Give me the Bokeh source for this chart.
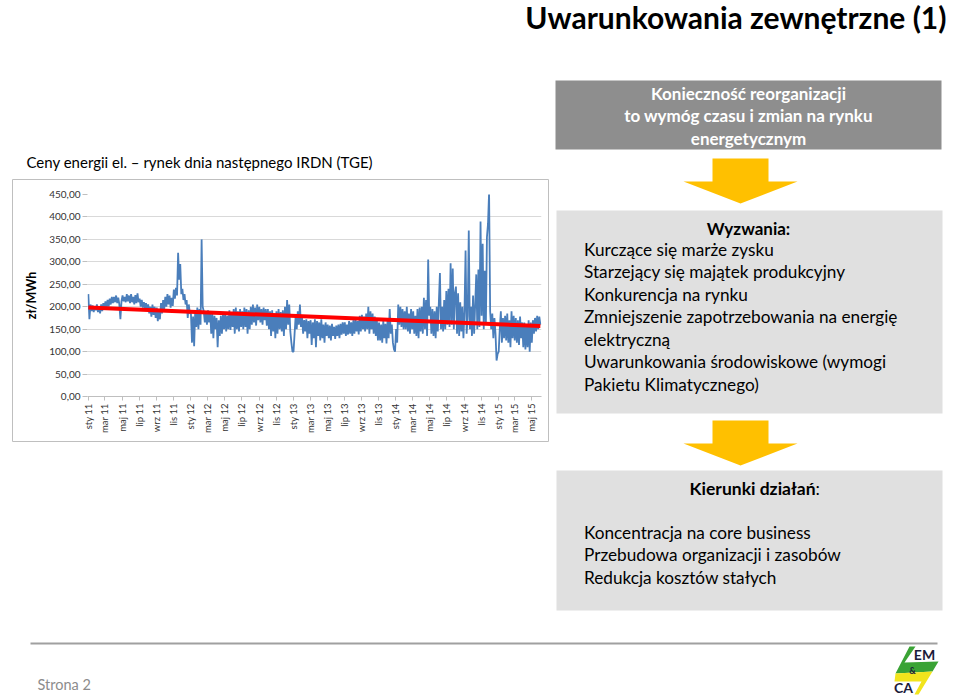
import math
import numpy as np
import pandas as pd
from bokeh.plotting import figure
from bokeh.models import Range1d, FixedTicker
from bokeh.core.properties import value
from bokeh.embed import file_html
from bokeh.resources import INLINE

# ---------------- data (zł/MWh, ~8 samples per month) -------------
prices_2011 = [
    228, 172, 205, 190, 203, 188, 200, 192,   # sty
    205, 188, 200, 185, 205, 190, 208, 195,   # lut
    212, 198, 215, 200, 218, 205, 222, 208,   # mar
    222, 210, 225, 208, 220, 205, 172, 212,   # kwi
    225, 212, 222, 210, 228, 212, 225, 208,   # maj
    228, 210, 222, 205, 226, 208, 230, 210,   # cze
    218, 200, 215, 198, 210, 195, 208, 192,   # lip
    205, 185, 200, 178, 205, 182, 200, 175,   # sie
    198, 168, 195, 172, 208, 185, 215, 195,   # wrz
    222, 200, 228, 205, 225, 198, 220, 202,   # paź
    238, 218, 242, 225, 320, 260, 295, 228,   # lis
    240, 215, 228, 205, 215, 175, 205, 185,   # gru
]
prices_2012 = [
    185, 120, 178, 112, 190, 155, 198, 150,
    195, 160, 350, 200, 190, 165, 185, 160,
    192, 165, 190, 140, 185, 130, 180, 150,
    175, 110, 170, 135, 180, 140, 182, 150,
    185, 145, 180, 150, 192, 148, 188, 155,
    195, 140, 198, 150, 190, 145, 195, 155,
    190, 150, 198, 155, 195, 140, 192, 150,
    200, 160, 205, 165, 198, 158, 205, 170,
    200, 165, 195, 160, 198, 170, 195, 158,
    195, 150, 190, 135, 192, 145, 185, 130,
    190, 140, 195, 150, 188, 145, 192, 135,
    200, 150, 215, 160, 205, 145, 120, 100,
]
prices_2013 = [
    100, 140, 180, 150, 190, 160, 205, 155,
    175, 140, 170, 145, 172, 130, 168, 140,
    170, 115, 165, 130, 172, 110, 168, 135,
    165, 125, 172, 130, 160, 120, 165, 135,
    160, 130, 158, 125, 162, 135, 155, 128,
    158, 135, 160, 130, 162, 138, 165, 140,
    165, 135, 160, 138, 168, 140, 165, 135,
    170, 140, 172, 145, 168, 138, 180, 145,
    182, 150, 178, 145, 185, 150, 200, 140,
    190, 150, 185, 140, 178, 135, 170, 125,
    165, 125, 160, 120, 168, 130, 162, 118,
    170, 130, 195, 140, 160, 120, 105, 100,
]
prices_2014 = [
    150, 120, 205, 160, 200, 155, 195, 150,
    190, 150, 200, 145, 185, 140, 195, 150,
    190, 140, 180, 135, 195, 130, 198, 145,
    200, 140, 220, 150, 215, 135, 305, 180,
    200, 140, 195, 135, 190, 130, 200, 145,
    210, 275, 150, 200, 145, 215, 150, 235,
    160, 240, 155, 297, 160, 285, 150, 230,
    245, 140, 230, 135, 210, 145, 200, 130,
    190, 325, 140, 180, 370, 150, 200, 135,
    225, 140, 205, 272, 150, 283, 155, 390,
    180, 340, 150, 280, 160, 355, 385, 455,
    190, 150, 185, 130, 175, 140, 80, 95,
]
prices_2015 = [
    100, 150, 190, 120, 175, 130, 180, 125,
    185, 120, 170, 110, 190, 130, 180, 125,
    175, 120, 170, 115, 178, 130, 165, 110,
    165, 105, 160, 110, 170, 100, 165, 120,
    170, 140, 175, 145, 180, 150, 178, 160,
]
trend_values = [198, 157]          # red linear trend, start and end

y_tick_values = [0, 50, 100, 150, 200, 250, 300, 350, 400, 450]
y_tick_labels = ["0,00", "50,00", "100,00", "150,00", "200,00",
                 "250,00", "300,00", "350,00", "400,00", "450,00"]
x_tick_labels = ["sty 11", "mar 11", "maj 11", "lip 11", "wrz 11", "lis 11",
                 "sty 12", "mar 12", "maj 12", "lip 12", "wrz 12", "lis 12",
                 "sty 13", "mar 13", "maj 13", "lip 13", "wrz 13", "lis 13",
                 "sty 14", "mar 14", "maj 14", "lip 14", "wrz 14", "lis 14",
                 "sty 15", "mar 15", "maj 15"]

challenges = ["Kurczące się marże zysku",
              "Starzejący się majątek produkcyjny",
              "Konkurencja na rynku",
              "Zmniejszenie zapotrzebowania na energię",
              "elektryczną",
              "Uwarunkowania środowiskowe (wymogi",
              "Pakietu Klimatycznego)"]
challenge_bullet = [True, True, True, True, False, True, False]
actions = ["Koncentracja na core business",
           "Przebudowa organizacji i zasobów",
           "Redukcja kosztów stałych"]

# ---------------- derived -------------
prices = prices_2011 + prices_2012 + prices_2013 + prices_2014 + prices_2015
start = pd.Timestamp("2011-01-01")
dates = pd.date_range(start, "2015-05-31", periods=len(prices))
days = ((dates - start) / pd.Timedelta(days=1)).to_numpy()
tick_dates = pd.date_range(start, "2015-05-01", freq="2MS")
tick_days = [float((d - start).days) for d in tick_dates]

FONT = value("Lato")

p = figure(width=960, height=696, output_backend="svg", toolbar_location=None,
           x_range=Range1d(-3, 1615), y_range=Range1d(0, 450),
           min_border_left=87, min_border_right=419,
           min_border_top=194, min_border_bottom=300)
p.outline_line_color = None
p.background_fill_color = "white"
p.border_fill_color = "white"
p.extra_x_ranges = {"px": Range1d(87, 541)}
p.extra_y_ranges = {"px": Range1d(396, 194)}

# axes
p.xgrid.visible = False
p.ygrid.ticker = FixedTicker(ticks=y_tick_values)
p.ygrid.grid_line_color = "#d9d9d9"

xa = p.xaxis[0]
xa.ticker = FixedTicker(ticks=tick_days)
xa.major_label_overrides = {t: l for t, l in zip(tick_days, x_tick_labels)}
xa.major_label_orientation = math.pi / 2
xa.major_label_text_font = "Lato"
xa.major_label_text_font_size = "9.5px"
xa.major_label_text_color = "#333333"
xa.axis_line_color = "#bfbfbf"
xa.major_tick_line_color = "#bfbfbf"
xa.major_tick_in = 0
xa.major_tick_out = 4
xa.minor_tick_line_color = None
xa.major_label_standoff = 3

ya = p.yaxis[0]
ya.ticker = FixedTicker(ticks=y_tick_values)
ya.major_label_overrides = {t: l for t, l in zip(y_tick_values, y_tick_labels)}
ya.major_label_text_font = "Lato"
ya.major_label_text_font_size = "10px"
ya.major_label_text_color = "#333333"
ya.axis_line_color = None
ya.major_tick_line_color = "#bfbfbf"
ya.major_tick_in = 0
ya.major_tick_out = 5
ya.minor_tick_line_color = None
ya.major_label_standoff = 2
ya.axis_label = "zł/MWh"
ya.axis_label_text_font = "Lato"
ya.axis_label_text_font_style = "bold"
ya.axis_label_text_font_size = "12.5px"
ya.axis_label_text_color = "black"
ya.axis_label_standoff = 7

# data
p.line(days, prices, line_color="#4a7ebb", line_width=1.8)
p.line([days[0], days[-1]], trend_values, line_color="#ff0000", line_width=4)

# ---------------- slide decorations (page pixel coordinates) -------------
D = dict(x_range_name="px", y_range_name="px", level="annotation")


def text(x, y, s, size, bold=False, color="black", align="left"):
    p.text(x=[x], y=[y], text=[s], text_font=FONT, text_font_size=f"{size}px",
           text_font_style="bold" if bold else "normal", text_color=color,
           text_align=align, text_baseline="middle", **D)


# chart frame box
p.quad(left=[12], right=[548], top=[179], bottom=[441], fill_color=None,
       line_color="#bfbfbf", line_width=1, **D)

# title
text(946, 16.5, "Uwarunkowania zewnętrzne (1)", 30, bold=True, align="right")
# left subtitle
text(26, 161, "Ceny energii el. –  rynek dnia następnego IRDN (TGE)", 15)

# box 1
p.quad(left=[555], right=[941], top=[80], bottom=[149], fill_color="#8e8e8e",
       line_color=None, **D)
for i, s in enumerate(["Konieczność reorganizacji", "to wymóg czasu i zmian na rynku",
                       "energetycznym"]):
    text(748, 92.5 + 22.5 * i, s, 17, bold=True, color="white", align="center")


def arrow(top):
    p.patch(x=[712, 768, 768, 797, 740, 683, 712],
            y=[top, top, top + 23, top + 23, top + 45, top + 23, top + 23],
            fill_color="#ffc000", line_color=None, **D)


arrow(158)
# box 2
p.quad(left=[556], right=[942], top=[210], bottom=[413], fill_color="#e0e0e0",
       line_color=None, **D)
text(748, 228, "Wyzwania:", 17, bold=True, align="center")
for i, (s, b) in enumerate(zip(challenges, challenge_bullet)):
    y = 248.5 + 22.5 * i
    if b:
        p.scatter([570.5], [y], marker="square", size=5, fill_color="black",
                  line_color=None, **D)
    text(583.5, y, s, 17.2)

arrow(420)
# box 3
p.quad(left=[556], right=[942], top=[470], bottom=[610], fill_color="#e0e0e0",
       line_color=None, **D)
text(815, 488, "Kierunki działań", 17.5, bold=True, align="right")
text(815, 488, ":", 17.5, align="left")
for i, s in enumerate(actions):
    y = 531.5 + 22.5 * i
    p.scatter([570.5], [y], marker="square", size=5, fill_color="black",
              line_color=None, **D)
    text(583.5, y, s, 17.2)

# footer
p.line([30, 937], [643, 643], line_color="#a0a0a0", line_width=2, **D)
text(37, 684, "Strona 2", 14.5, color="#8c8c8c")

# logo
p.patch(x=[909, 915, 904, 938, 932, 895], y=[646, 646, 662, 661, 671, 673],
        fill_color="#3aa335", line_color=None, **D)
p.patch(x=[895, 932, 918, 914, 921, 894], y=[673, 671, 694, 694, 681, 681],
        fill_color="#f2e41c", line_color=None, **D)
p.scatter([912], [669], marker="circle", size=11, fill_color="white", line_color=None, **D)
text(912, 669.5, "&", 9, bold=True, color="#1b1b3a", align="center")
text(924, 654, "EM", 14, bold=True, color="#1b1b3a", align="center")
text(903, 687, "CA", 14, bold=True, color="#1b1b3a", align="center")

open("out.html", "w").write(file_html(p, INLINE))
